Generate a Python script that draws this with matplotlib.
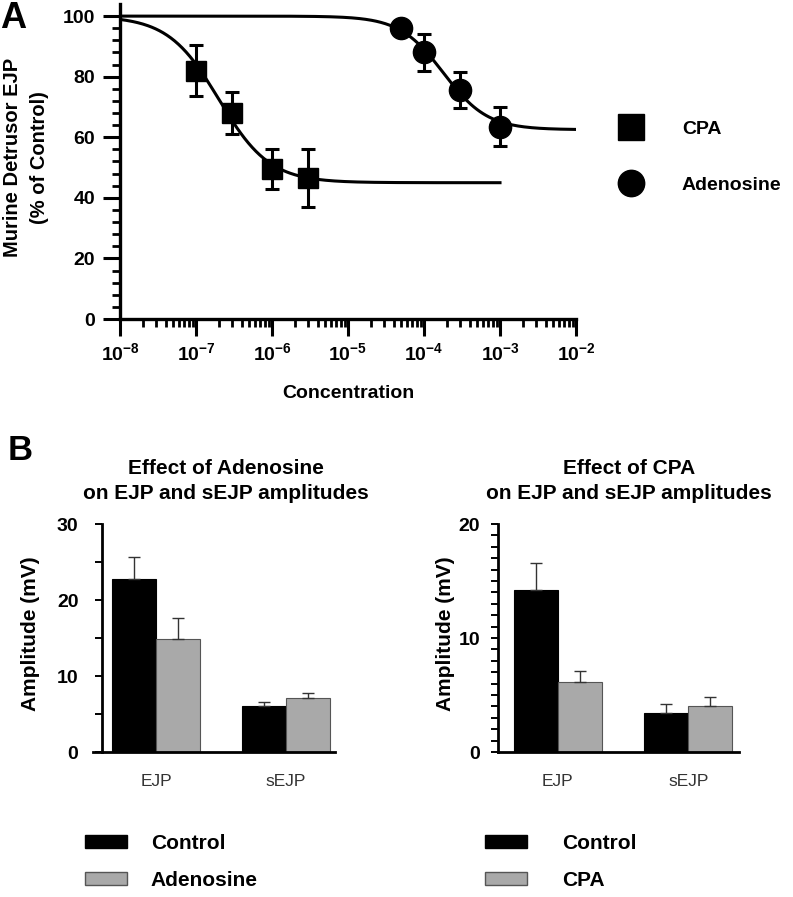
import numpy as np
import matplotlib
matplotlib.use("Agg")
import matplotlib.pyplot as plt
from matplotlib.patches import Patch
from matplotlib.lines import Line2D
from matplotlib.ticker import FixedLocator, NullFormatter

plt.rcParams["font.family"] = ["Liberation Sans", "DejaVu Sans"]
plt.rcParams["font.weight"] = "bold"
plt.rcParams["mathtext.fontset"] = "custom"
plt.rcParams["mathtext.rm"] = "Liberation Sans:bold"
plt.rcParams["mathtext.default"] = "rm"

# ---- Panel A: concentration-response data (% of control) ----
cpa_conc = [1e-7, 3e-7, 1e-6, 3e-6]
cpa_resp = [82.0, 68.0, 49.5, 46.5]
cpa_err = [8.5, 7.0, 6.5, 9.5]
ado_conc = [5e-5, 1e-4, 3e-4, 1e-3]
ado_resp = [96.0, 88.0, 75.5, 63.5]
ado_err = [0.0, 6.0, 6.0, 6.5]
decades = [-8, -7, -6, -5, -4, -3, -2]

# sigmoid fit parameters (top, bottom, EC50, Hill slope) and curve range
cpa_fit = (100.0, 45.0, 2.0e-7, 1.3)
ado_fit = (100.0, 62.5, 1.8e-4, 1.5)
cpa_range = (1e-8, 1e-3)
ado_range = (1e-8, 1e-2)

# ---- Panel B: amplitudes (mV) ----
groups = ["EJP", "sEJP"]
ado_ctrl = [22.8, 6.1]
ado_ctrl_err = [2.9, 0.5]
ado_drug = [14.85, 7.1]
ado_drug_err = [2.8, 0.7]
cpa_ctrl = [14.25, 3.4]
cpa_ctrl_err = [2.3, 0.8]
cpa_drug = [6.15, 4.0]
cpa_drug_err = [0.95, 0.8]

GREY = "#a9a9a9"
W, H = 793, 897


def fx(px):
    return px / W


def fy(py):
    return 1 - py / H


def hill(x, top, bottom, ec50, h):
    return bottom + (top - bottom) / (1 + (x / ec50) ** h)


fig = plt.figure(figsize=(7.93, 8.97), dpi=100)

# ================= Panel A =================
axA = fig.add_axes([fx(120), fy(319), fx(576 - 120), (319 - 4) / H])
for params, (lo, hi) in [(cpa_fit, cpa_range), (ado_fit, ado_range)]:
    xs = np.logspace(np.log10(lo), np.log10(hi), 300)
    axA.plot(xs, hill(xs, *params), color="black", lw=2.2, zorder=2)

axA.errorbar(cpa_conc, cpa_resp, yerr=cpa_err, fmt="s", ms=15, color="black",
             ecolor="black", elinewidth=2.2, capsize=5, capthick=2.2, zorder=3)
axA.errorbar(ado_conc, ado_resp, yerr=ado_err, fmt="o", ms=16, color="black",
             ecolor="black", elinewidth=2.2, capsize=5, capthick=2.2, zorder=3)

axA.set_xscale("log")
axA.set_xlim(1e-8, 1e-2)
axA.set_ylim(0, 104)
axA.set_yticks([0, 20, 40, 60, 80, 100])
axA.yaxis.set_minor_locator(FixedLocator([v for v in range(0, 101, 4) if v % 20]))
axA.xaxis.set_major_locator(FixedLocator([10.0 ** e for e in decades]))
axA.xaxis.set_minor_locator(FixedLocator(
    [k * 10.0 ** e for e in decades[:-1] for k in range(2, 10)]))
axA.xaxis.set_minor_formatter(NullFormatter())
axA.set_xticklabels([f"$10^{{{e}}}$" for e in decades])
axA.tick_params(axis="both", which="major", direction="out", length=12, width=2.2,
                labelsize=14, pad=6)
axA.tick_params(axis="both", which="minor", direction="out", length=6, width=2.0)
axA.tick_params(axis="x", which="major", pad=5)
for s in ["top", "right"]:
    axA.spines[s].set_visible(False)
for s in ["left", "bottom"]:
    axA.spines[s].set_linewidth(2.4)
axA.set_xlabel("Concentration", fontsize=14, fontweight="bold", labelpad=15)
axA.set_ylabel("Murine Detrusor EJP\n(% of Control)", fontsize=14.5,
               fontweight="bold", linespacing=1.55)
axA.yaxis.set_label_coords(-0.155, 0.514)

handlesA = [Line2D([], [], ls="none", marker="s", ms=19, color="black"),
            Line2D([], [], ls="none", marker="o", ms=19, color="black")]
fig.legend(handlesA, ["CPA", "Adenosine"], loc="center left",
           bbox_to_anchor=(fx(612), fy(157)), frameon=False, fontsize=14,
           labelspacing=1.95, handletextpad=1.6, borderpad=0, borderaxespad=0)

fig.text(fx(0), fy(1), "A", fontsize=26, fontweight="bold", va="top", ha="left")
fig.text(fx(8), fy(451), "B", fontsize=25, fontweight="bold", va="center", ha="left")

# ================= Panel B =================
width = 0.34
xpos = np.arange(len(groups))


def bar_panel(left_px, right_px, ctrl, ctrl_err, drug, drug_err, ymax, major,
              minor, title_x, drug_name, legend_x, text_gap, ypad):
    ax = fig.add_axes([fx(left_px), fy(752), fx(right_px - left_px), 228 / H])
    ax.bar(xpos - width / 2, ctrl, width, color="black", edgecolor="black", lw=0.8)
    ax.bar(xpos + width / 2, drug, width, color=GREY, edgecolor="#555555", lw=0.8)
    ax.errorbar(xpos - width / 2, ctrl, yerr=[[0] * len(ctrl), ctrl_err], fmt="none",
                ecolor="#333333", elinewidth=1.0, capsize=4, capthick=1.0)
    ax.errorbar(xpos + width / 2, drug, yerr=[[0] * len(drug), drug_err], fmt="none",
                ecolor="#333333", elinewidth=1.0, capsize=4, capthick=1.0)
    ax.set_ylim(0, ymax)
    ax.set_yticks(major)
    ax.yaxis.set_minor_locator(FixedLocator(minor))
    ax.set_xticks(xpos)
    ax.set_xticklabels(groups, fontsize=12.5, fontweight="normal", color="#333333")
    ax.tick_params(axis="x", length=0, pad=16)
    ax.tick_params(axis="y", which="both", direction="out", length=5, width=1.4,
                   labelsize=14, pad=ypad)
    for s in ["top", "right"]:
        ax.spines[s].set_visible(False)
    for s in ["left", "bottom"]:
        ax.spines[s].set_linewidth(2.0)
    ax.set_ylabel("Amplitude (mV)", fontsize=15, fontweight="bold")
    fig.text(fx(title_x), fy(481), f"Effect of {drug_name}\non EJP and sEJP amplitudes",
             ha="center", va="center", fontsize=15, fontweight="bold", linespacing=1.4)
    handles = [Patch(facecolor="black", edgecolor="black"),
               Patch(facecolor=GREY, edgecolor="#555555")]
    fig.legend(handles, ["Control", drug_name], loc="upper left",
               bbox_to_anchor=(fx(legend_x), fy(834)), frameon=False, fontsize=15,
               handlelength=2.0, handleheight=0.62, handletextpad=text_gap,
               labelspacing=0.85, borderpad=0, borderaxespad=0)
    return ax


axB1 = bar_panel(93, 335, ado_ctrl, ado_ctrl_err, ado_drug, ado_drug_err, 30,
                 [0, 10, 20, 30], [5, 15, 25], 226, "Adenosine", 85, 1.15, 12)
axB1.set_xlim(-0.485, 1.377)
axB1.spines["left"].set_position(("data", -0.415))
axB1.yaxis.set_label_coords(-0.219, 0.52)

axB2 = bar_panel(498, 739, cpa_ctrl, cpa_ctrl_err, cpa_drug, cpa_drug_err, 20,
                 [0, 10, 20], [v for v in range(1, 20) if v != 10], 629, "CPA", 485,
                 1.7, 8)
axB2.set_xlim(-0.46, 1.39)
axB2.yaxis.set_label_coords(-0.178, 0.52)

fig.savefig("out.png", dpi=100)
